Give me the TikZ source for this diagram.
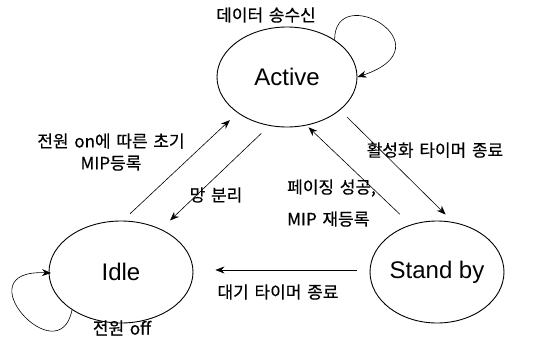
\documentclass[tikz,border=0pt]{standalone}
\usepackage{fontspec}
\setmainfont{Liberation Sans}
\newfontfamily\krfont[WordSpace=1.5,FakeBold=0.4]{Noto Sans CJK KR}
\usetikzlibrary{shapes.geometric}
\usetikzlibrary{arrows.meta}
\tikzset{
  state/.style={ellipse, draw, line width=0.9pt, inner sep=0pt, font=\fontsize{24}{28}\selectfont},
  lbl/.style={font=\krfont\fontsize{17}{22}\selectfont, inner sep=0pt},
  arr/.style={line width=0.6pt, -{Stealth[length=9pt,width=7pt]}}
}

\begin{document}
\begin{tikzpicture}[x=1pt, y=-1pt]
  \useasboundingbox (0,0) rectangle (538,348);

  % the three states
  \node [state, minimum width=140pt, minimum height=100pt] (active) at (287,77) {Active};
  \node [state, minimum width=144pt, minimum height=102pt] (idle) at (121,272) {Idle};
  \node [state, minimum width=128pt, minimum height=102pt] (standby) at (437,272) {Stand by};

  % self loops
  \draw [arr] (active.38) .. controls +(0,-60) and +(93,-31) .. (active.east);
  \draw [arr] ([shift={(-49,38)}]idle.center) .. controls +(-13,65) and +(-89,-4) .. ([shift={(-70,1)}]idle.center);

  % transitions
  \draw [arr, shorten <=10pt, shorten >=10.5pt] (idle.88) -- (active.216);
  \draw [arr, shorten <=11pt, shorten >=12.5pt] (active.250) -- (idle.47);
  \draw [arr, shorten <=10pt, shorten >=10.7pt] (active.328) -- (standby.72);
  \draw [arr, shorten <=15pt, shorten >=2.7pt] (standby.119) -- (active.292);
  \draw [arr, shorten <=13pt, shorten >=22pt] ([yshift=2pt]standby.west) -- ([yshift=2pt]idle.east);

  % labels
  \node [lbl] (datalbl) at (266,15) {데이터 송수신};
  \node [lbl, align=center] (onlbl) at (111,152) {전원 on에 따른 초기\\MIP등록};
  \node [lbl] (splitlbl) at (216,195) {망 분리};
  \node [lbl] (actlbl) at (435,150) {활성화 타이머 종료};
  \node [lbl, align=left, anchor=west] (pagelbl) at (287,203) {페이징 성공,\\[10pt]MIP 재등록};
  \node [lbl] (waitlbl) at (278,292) {대기 타이머 종료};
  \node [lbl] (offlbl) at (122,328) {전원 off};

\end{tikzpicture}
\end{document}
